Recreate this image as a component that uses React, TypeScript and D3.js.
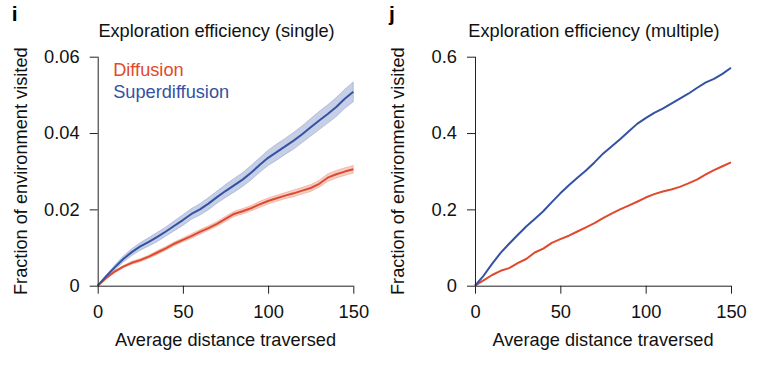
import React, { useEffect, useRef } from "react";
import * as d3 from "d3";

const distance = [
  0, 5, 10, 15, 20, 25, 30, 35, 40, 45, 50, 55, 60, 65, 70, 75, 80, 85, 90, 95,
  100, 105, 110, 115, 120, 125, 130, 135, 140, 145, 150,
];

// panel i (single)
const singleDiffusion = [
  0, 0.002, 0.0037, 0.005, 0.006, 0.0067, 0.0076, 0.0087, 0.0098, 0.011, 0.012,
  0.013, 0.0141, 0.0151, 0.0162, 0.0175, 0.0188, 0.0195, 0.0203, 0.0213, 0.0222,
  0.0229, 0.0236, 0.0242, 0.0249, 0.0256, 0.0267, 0.0283, 0.0292, 0.0299, 0.0305,
];
const singleDiffusionErr = [
  0, 0.0002, 0.0003, 0.0003, 0.0004, 0.0004, 0.0004, 0.0005, 0.0005, 0.0005,
  0.0005, 0.0006, 0.0006, 0.0006, 0.0006, 0.0007, 0.0007, 0.0007, 0.0007, 0.0008,
  0.0008, 0.0008, 0.0008, 0.0009, 0.0009, 0.0009, 0.0009, 0.001, 0.001, 0.001, 0.001,
];
const singleSuper = [
  0, 0.0025, 0.0048, 0.007, 0.0088, 0.0103, 0.0115, 0.0128, 0.0142, 0.0157, 0.0172,
  0.0188, 0.02, 0.0215, 0.0232, 0.0248, 0.0263, 0.0278, 0.0296, 0.0316, 0.0335,
  0.035, 0.0365, 0.038, 0.0397, 0.0415, 0.0433, 0.045, 0.0468, 0.049, 0.0508,
];
const singleSuperErr = [
  0, 0.0003, 0.0006, 0.0008, 0.0009, 0.001, 0.0011, 0.0012, 0.0012, 0.0013, 0.0014,
  0.0014, 0.0015, 0.0016, 0.0016, 0.0017, 0.0018, 0.0018, 0.0019, 0.0019, 0.002,
  0.0021, 0.0021, 0.0022, 0.0022, 0.0023, 0.0024, 0.0024, 0.0025, 0.0025, 0.0026,
];

// panel j (multiple)
const multiDiffusion = [
  0, 0.014, 0.028, 0.039, 0.046, 0.059, 0.07, 0.087, 0.097, 0.112, 0.122, 0.131,
  0.142, 0.153, 0.164, 0.177, 0.189, 0.2, 0.21, 0.22, 0.231, 0.24, 0.247, 0.252,
  0.259, 0.268, 0.278, 0.291, 0.303, 0.313, 0.323,
];
const multiSuper = [
  0, 0.026, 0.057, 0.086, 0.11, 0.133, 0.155, 0.175, 0.195, 0.219, 0.242, 0.263,
  0.283, 0.302, 0.323, 0.346, 0.365, 0.384, 0.404, 0.424, 0.439, 0.453, 0.464,
  0.477, 0.49, 0.503, 0.518, 0.532, 0.542, 0.555, 0.571,
];

const xTicks = [0, 50, 100, 150];
const singleTicks = [0, 0.02, 0.04, 0.06];
const multiTicks = [0, 0.2, 0.4, 0.6];

const RED = "#df4a2d";
const BLUE = "#3352a3";
const FONT = "'Liberation Sans', Arial, Helvetica, sans-serif";
const FS = 18.2;

const top = 56.7;
const bottom = 285.7;

type Series = { values: number[]; err?: number[]; color: string };

function Panel(props: {
  letter: string;
  title: string;
  left: number;
  right: number;
  yMax: number;
  yTicks: number[];
  series: Series[];
  legend?: boolean;
}) {
  const { letter, title, left, right, yMax, yTicks, series, legend } = props;
  const xAxisRef = useRef<SVGGElement>(null);
  const yAxisRef = useRef<SVGGElement>(null);

  const x = d3.scaleLinear().domain([0, 150]).range([left, right]);
  const y = d3.scaleLinear().domain([0, yMax]).range([bottom, top]);
  const fmt = (d: d3.NumberValue) => (+d === 0 ? "0" : String(+d));

  useEffect(() => {
    const gx = d3.select(xAxisRef.current!);
    gx.call(
      d3.axisBottom(x).tickValues(xTicks).tickSize(8).tickPadding(11).tickFormat(fmt)
    );
    const gy = d3.select(yAxisRef.current!);
    gy.call(
      d3.axisLeft(y).tickValues(yTicks).tickSize(8).tickPadding(10).tickFormat(fmt)
    );
    [gx, gy].forEach((g) => {
      g.select(".domain").attr("stroke", "#222");
      g.selectAll("line").attr("stroke", "#222");
      g.selectAll("text")
        .attr("fill", "#111")
        .style("font-size", "18.3px")
        .style("font-family", FONT);
      g.attr("font-size", null).attr("font-family", null);
    });
    gx.select(".domain").attr("d", `M${left},0.5H${right}`);
    gy.select(".domain").attr("d", `M0.5,${top}V${bottom}`);
  }, []);

  const line = d3
    .line<number>()
    .x((_, i) => x(distance[i]))
    .y((v) => y(v));

  return (
    <g>
      <text x={left - 86} y={21} fontSize={21} fontWeight="bold" fontFamily={FONT}>
        {letter}
      </text>
      <text
        x={(left + right) / 2 - 9}
        y={37}
        textAnchor="middle"
        fontSize={FS}
        fontFamily={FONT}
        fill="#111"
      >
        {title}
      </text>
      <text
        transform={`translate(${left - 77},${(top + bottom) / 2}) rotate(-90)`}
        textAnchor="middle"
        dominantBaseline="central"
        fontSize={FS}
        fontFamily={FONT}
        fill="#111"
      >
        Fraction of environment visited
      </text>
      <text
        x={(left + right) / 2}
        y={346}
        textAnchor="middle"
        fontSize={FS}
        fontFamily={FONT}
        fill="#111"
      >
        Average distance traversed
      </text>
      {series.map((s, k) => {
        if (!s.err) return null;
        const area = d3
          .area<number>()
          .x((_, i) => x(distance[i]))
          .y0((v, i) => y(v - s.err![i]))
          .y1((v, i) => y(v + s.err![i]));
        return (
          <path
            key={"b" + k}
            d={area(s.values) || ""}
            fill={s.color}
            fillOpacity={0.28}
            stroke={s.color}
            strokeOpacity={0.25}
            strokeWidth={1}
          />
        );
      })}
      {series.map((s, k) => (
        <path
          key={"l" + k}
          d={line(s.values) || ""}
          fill="none"
          stroke={s.color}
          strokeWidth={2}
          strokeLinejoin="round"
        />
      ))}
      <g ref={xAxisRef} transform={`translate(0,${bottom})`} />
      <g ref={yAxisRef} transform={`translate(${left},0)`} />
      {legend && (
        <g fontSize={FS} fontFamily={FONT}>
          <text x={left + 15.5} y={76} fill={RED}>
            Diffusion
          </text>
          <text x={left + 15.5} y={98} fill={BLUE}>
            Superdiffusion
          </text>
        </g>
      )}
    </g>
  );
}

export default function App() {
  return (
    <div style={{ position: "absolute", left: 0, top: 0, background: "#fff" }}>
      <svg width={758} height={365} style={{ display: "block" }}>
        <Panel
          letter="i"
          title="Exploration efficiency (single)"
          left={97.7}
          right={353.3}
          yMax={0.06}
          yTicks={singleTicks}
          legend
          series={[
            { values: singleDiffusion, err: singleDiffusionErr, color: RED },
            { values: singleSuper, err: singleSuperErr, color: BLUE },
          ]}
        />
        <Panel
          letter="j"
          title="Exploration efficiency (multiple)"
          left={475}
          right={731}
          yMax={0.6}
          yTicks={multiTicks}
          series={[
            { values: multiDiffusion, color: RED },
            { values: multiSuper, color: BLUE },
          ]}
        />
      </svg>
    </div>
  );
}
